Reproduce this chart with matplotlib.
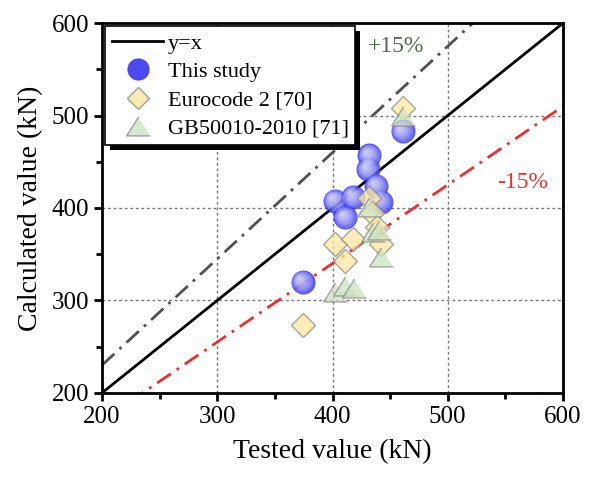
import numpy as np
import matplotlib
matplotlib.use("Agg")
import matplotlib.pyplot as plt
from matplotlib.lines import Line2D
from matplotlib.patches import Rectangle
import matplotlib.transforms as mtransforms

plt.rcParams['font.family'] = ['Liberation Serif', 'DejaVu Serif']

# tested vs calculated values (kN)
study_x = [374, 402, 411, 418, 432, 431, 438, 442, 461]
study_y = [320, 408, 390, 412, 457, 442, 424, 407, 483]
ec2_x = [374, 402, 411, 418, 432, 434, 439, 442, 461]
ec2_y = [273, 361, 343, 366, 411, 395, 379, 361, 508]
gb_x = [402, 411, 419, 432, 435, 440, 442, 461]
gb_y = [309, 316, 313, 401, 374, 376, 347, 500]

tri = [(0, 0.8), (-1, -0.8), (1, -0.8)]  # wide, flat triangle

fig = plt.figure(figsize=(5.97, 4.82), dpi=100)
ax = fig.add_axes([0.171, 0.185, 0.772, 0.767])

line = np.array([200, 600])
ax.plot(line, line, color='black', lw=2, zorder=2)
ax.plot(line, 1.15 * line, color='#505050', lw=2, ls=(0, (6, 2.5, 1, 2.5)), zorder=2)
ax.plot(line, 0.85 * line, color='#e83030', lw=2, ls=(0, (6, 2.5, 1, 2.5)), zorder=2)

# blue spheres: solid base plus soft white highlight toward upper left
base = 300
ax.scatter(study_x, study_y, s=base, color='#2a2aee', alpha=0.8, lw=0, zorder=3)
n = 14
for i in range(1, n + 1):
    f = i / n
    off = mtransforms.offset_copy(ax.transData, fig=fig, x=-2.7 * f, y=2.7 * f, units='points')
    ax.scatter(study_x, study_y, s=base * (1 - 0.93 * f) ** 2 + 3, color='white',
               alpha=0.09, lw=0, transform=off, zorder=3)

ax.scatter(ec2_x, ec2_y, s=150, marker='D', facecolor='#ffe7a0', edgecolor='#8a8a8a',
           lw=1, alpha=0.75, zorder=4)
ax.scatter(gb_x, gb_y, s=290, marker=tri, facecolor='#cde4c2', edgecolor='#8a8a8a',
           lw=1, alpha=0.75, zorder=5)

ax.text(455, 575, '+15%', color='#4f6a4f', fontsize=17, ha='center', va='center')
ax.text(565, 428, '-15%', color='#e83030', fontsize=17, ha='center', va='center')

ax.set_xlim(200, 600)
ax.set_ylim(200, 600)
ax.set_xticks([200, 300, 400, 500, 600])
ax.set_yticks([200, 300, 400, 500, 600])
ax.set_xticks([250, 350, 450, 550], minor=True)
ax.set_yticks([250, 350, 450, 550], minor=True)
ax.tick_params(which='major', direction='out', length=6, width=2, labelsize=18)
ax.tick_params(which='minor', direction='out', length=4, width=2)
ax.grid(True, which='major', ls=(0, (2, 2)), color='#777777', lw=1)
for sp in ax.spines.values():
    sp.set_linewidth(2)

ax.set_xlabel('Tested value (kN)', fontsize=20, labelpad=8)
ax.set_ylabel('Calculated value (kN)', fontsize=20, labelpad=6)

handles = [
    Line2D([], [], color='black', lw=2),
    Line2D([], [], ls='none', marker='o', markersize=16, color='#4a4af0', markeredgewidth=0),
    Line2D([], [], ls='none', marker='D', markersize=11.5, markerfacecolor='#ffe7a0',
           markeredgecolor='#8a8a8a', alpha=0.8),
    Line2D([], [], ls='none', marker=tri, markersize=17, markerfacecolor='#cde4c2',
           markeredgecolor='#8a8a8a', alpha=0.8),
]
labels = ['y=x', 'This study', 'Eurocode 2 [70]', 'GB50010-2010 [71]']
leg = ax.legend(handles, labels, loc='upper left', fontsize=16, frameon=True, fancybox=False,
                borderpad=0.3, labelspacing=0.35, handlelength=2.3, handletextpad=0.2,
                borderaxespad=0.15)
leg.get_frame().set_edgecolor('black')
leg.get_frame().set_linewidth(1.2)
leg.get_frame().set_alpha(1)
leg.set_zorder(10)

# thick black drop shadow behind the legend box
fig.canvas.draw()
bb = leg.get_frame().get_window_extent()
ax.add_patch(Rectangle((bb.x0 + 5, bb.y0 - 5), bb.width, bb.height, transform=None,
                       facecolor='black', edgecolor='none', zorder=9, clip_on=False))

fig.savefig('out.png', dpi=100)
